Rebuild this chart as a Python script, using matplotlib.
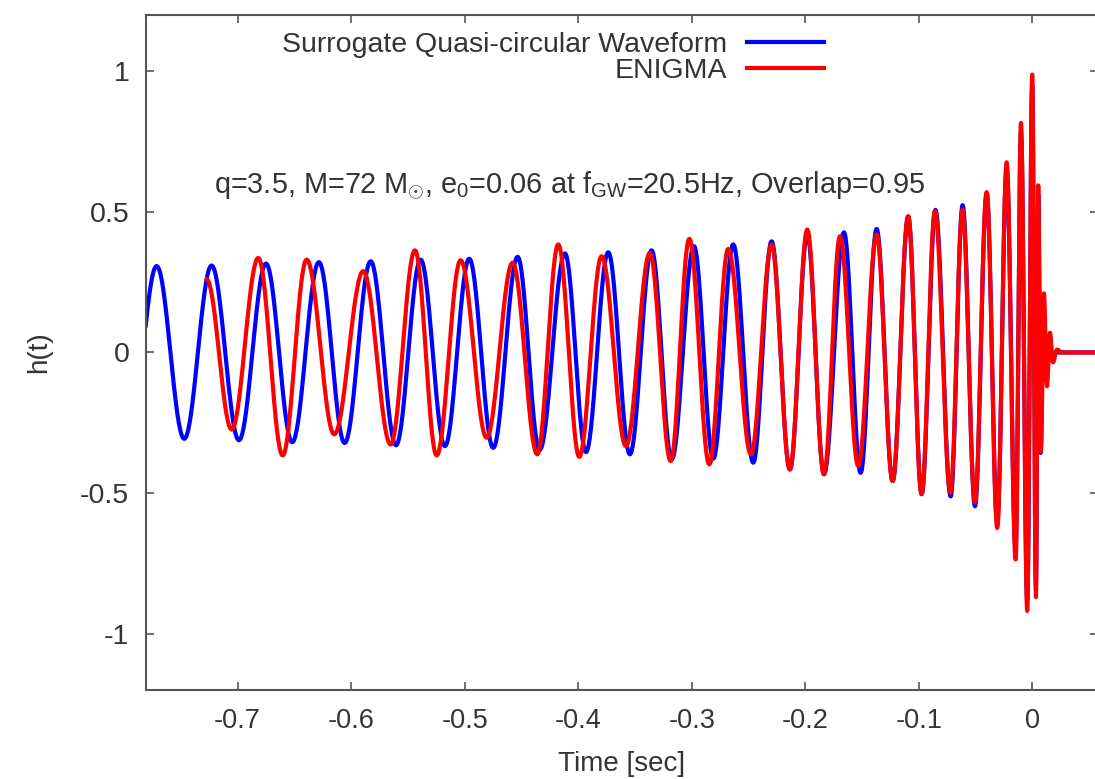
import numpy as np
import matplotlib
matplotlib.use('Agg')
import matplotlib.pyplot as plt

plt.rcParams['font.family'] = ['Liberation Sans', 'DejaVu Sans']
plt.rcParams['mathtext.fontset'] = 'custom'
plt.rcParams['mathtext.rm'] = 'Liberation Sans'
plt.rcParams['mathtext.it'] = 'Liberation Sans:italic'

# turning points (maxima / minima) of each waveform
surr_t = [-0.7954, -0.7713, -0.7470, -0.7229, -0.6988, -0.6750, -0.6519, -0.6284,
          -0.6057, -0.5828, -0.5605, -0.5388, -0.5174, -0.4960, -0.4749, -0.4534,
          -0.4340, -0.4117, -0.3932, -0.3736, -0.3545, -0.3354, -0.3177, -0.2981,
          -0.2811, -0.2635, -0.2459, -0.2297, -0.2136, -0.1983, -0.1836, -0.1660,
          -0.1513, -0.1372, -0.1231, -0.1094, -0.0976, -0.0854, -0.0720, -0.0615,
          -0.0506, -0.0403, -0.0310, -0.0227, -0.0148, -0.0101, -0.0046, -0.0002,
          0.0031, 0.0051, 0.0072, 0.0095, 0.0119, 0.0145, 0.0172, 0.0207, 0.06]
surr_h = [-0.305, 0.307, -0.307, 0.309, -0.312, 0.316, -0.319, 0.321,
          -0.322, 0.324, -0.330, 0.330, -0.333, 0.333, -0.339, 0.340,
          -0.347, 0.352, -0.354, 0.356, -0.362, 0.363, -0.380, 0.378,
          -0.378, 0.384, -0.392, 0.395, -0.416, 0.420, -0.433, 0.427,
          -0.428, 0.439, -0.457, 0.484, -0.504, 0.507, -0.512, 0.524,
          -0.547, 0.565, -0.60, 0.65, -0.70, 0.78, -0.88, 0.95,
          -0.83, 0.56, -0.357, 0.198, -0.10, 0.05, -0.02, 0.0, 0.0]

enig_t = [-0.7273, -0.7052, -0.6818, -0.6603, -0.6392, -0.6149, -0.5893, -0.5652,
          -0.5438, -0.5247, -0.5036, -0.4807, -0.4578, -0.4361, -0.4176, -0.3991,
          -0.3794, -0.3580, -0.3369, -0.3186, -0.3022, -0.2846, -0.2679, -0.2479,
          -0.2297, -0.2136, -0.1983, -0.1836, -0.1695, -0.1534, -0.1372, -0.1231,
          -0.1094, -0.0976, -0.0859, -0.0722, -0.0616, -0.0506, -0.0403, -0.0310,
          -0.0227, -0.0148, -0.0101, -0.0046, -0.0002, 0.0031, 0.0051, 0.0075,
          0.0101, 0.0128, 0.0154, 0.0181, 0.0216, 0.0260, 0.06]
enig_h = [0.26, -0.274, 0.336, -0.366, 0.330, -0.291, 0.289, -0.327,
          0.363, -0.366, 0.328, -0.303, 0.319, -0.362, 0.384, -0.371,
          0.342, -0.333, 0.354, -0.386, 0.404, -0.398, 0.368, -0.362,
          0.384, -0.416, 0.437, -0.433, 0.413, -0.404, 0.419, -0.457,
          0.484, -0.504, 0.502, -0.498, 0.507, -0.533, 0.57, -0.624,
          0.676, -0.736, 0.816, -0.919, 0.988, -0.870, 0.594, -0.35,
          0.21, -0.12, 0.07, -0.035, 0.01, 0.0, 0.0]

labels = ['Surrogate Quasi-circular Waveform', 'ENIGMA']
xticks = [-0.7, -0.6, -0.5, -0.4, -0.3, -0.2, -0.1, 0]
yticks = [-1, -0.5, 0, 0.5, 1]


def trace(tp, hp, n=40):
    # join successive turning points with half-cosine arcs
    ts, hs = [], []
    for i in range(len(tp) - 1):
        s = np.linspace(0, 1, n, endpoint=False)
        ts.append(tp[i] + (tp[i + 1] - tp[i]) * s)
        hs.append(hp[i] + (hp[i + 1] - hp[i]) * (1 - np.cos(np.pi * s)) / 2)
    ts.append([tp[-1]])
    hs.append([hp[-1]])
    return np.concatenate(ts), np.concatenate(hs)


fig = plt.figure(figsize=(10.95, 7.79), dpi=100)
ax = fig.add_axes([0.1333, 0.1143, 0.8694, 0.8665])

t1, h1 = trace(surr_t, surr_h)
t2, h2 = trace(enig_t, enig_h)
ax.plot(t1, h1, color='#0000ff', lw=3, label=labels[0])
ax.plot(t2, h2, color='#ff0000', lw=3, label=labels[1])

ax.set_xlim(-0.7807, 0.0577)
ax.set_ylim(-1.2, 1.2)
ax.set_xticks(xticks)
ax.set_xticklabels(['-0.7', '-0.6', '-0.5', '-0.4', '-0.3', '-0.2', '-0.1', '0'])
ax.set_yticks(yticks)
ax.set_yticklabels(['-1', '-0.5', '0', '0.5', '1'])
ax.tick_params(direction='in', top=True, right=True, length=6, width=1.2,
               colors='#555555', labelcolor='#333333')
ax.tick_params(axis='x', pad=13, labelsize=19.5)
ax.tick_params(axis='y', pad=12, labelsize=20.5)
for sp in ax.spines.values():
    sp.set_color('#555555')
    sp.set_linewidth(1.5)

ax.set_xlabel('Time [sec]', fontsize=20, color='#333333', labelpad=12)
ax.set_ylabel('h(t)', fontsize=20, color='#333333', labelpad=20)

ax.text(-0.7208, 0.595,
        r'q=3.5, M=72 M$_{\odot}$, e$_0$=0.06 at f$_{\rm GW}$=20.5Hz, Overlap=0.95',
        fontsize=20.8, color='#333333', ha='left', va='center')

ax.legend(loc='upper right', bbox_to_anchor=(0.733, 1.0045), frameon=False,
          markerfirst=False, fontsize=20.5, handlelength=2.7, handletextpad=0.7,
          labelspacing=0.0, borderpad=0.2, labelcolor='#333333')

plt.savefig('out.png', dpi=100)
